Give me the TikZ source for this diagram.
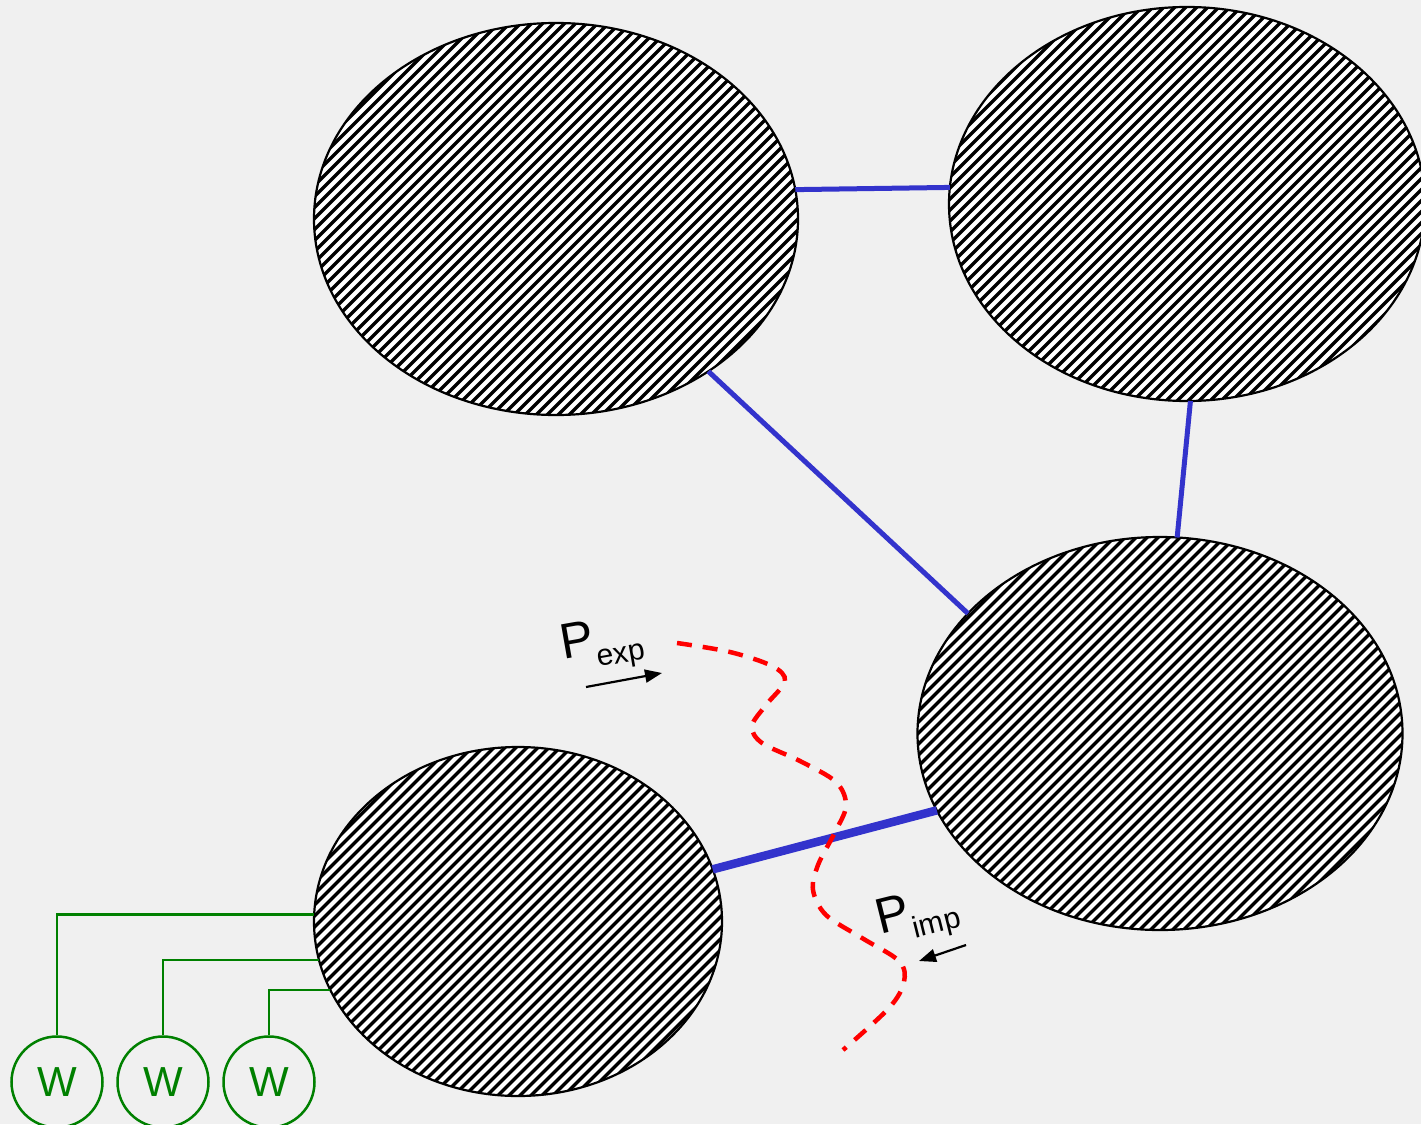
\documentclass[tikz,border=0pt]{standalone}
\usepackage{fontspec}
\setmainfont{Liberation Sans}
\usetikzlibrary{shapes.geometric,arrows.meta}
\definecolor{bgcol}{HTML}{F0F0F0}
\definecolor{linkblue}{HTML}{3333CC}
\definecolor{wgreen}{HTML}{008000}
\newcommand\hatcharea[3]{%
  \begin{scope}[shift={(#1.center)}]
    \fill[white] (0,0) ellipse [x radius=#2, y radius=#3];
    \clip (0,0) ellipse [x radius=#2, y radius=#3];
    \foreach \k in {-34,...,34} {\draw[hatchline] (\k*11-320,320) -- ++(640,-640);}
  \end{scope}}
\begin{document}
\begin{tikzpicture}[x=1pt,y=-1pt,
  area/.style={ellipse, draw=black, line width=2.2pt, inner sep=0pt, outer sep=0pt},
  hatchline/.style={draw=black, line width=3.4pt},
  link/.style={draw=linkblue, line width=5pt},
  biglink/.style={draw=linkblue, line width=8.5pt},
  gen/.style={circle, draw=wgreen, line width=2.5pt, minimum size=91pt, inner sep=0pt,
    text=wgreen, font=\fontsize{42}{42}\selectfont},
  feeder/.style={draw=wgreen, line width=2.5pt},
  cut/.style={draw=red, line width=4.5pt, dash pattern=on 15pt off 11pt},
  flowarrow/.style={draw=black, line width=2.2pt, -{Triangle[length=17pt,width=13pt]}},
  plabel/.style={font=\fontsize{50}{50}\selectfont, inner sep=0pt, anchor=base west}
]
\fill[bgcol] (0,0) rectangle (1421,1124);
\useasboundingbox (0,0) rectangle (1421,1124);

\coordinate (A) at (556,219);
\coordinate (B) at (1187,204);
\coordinate (C) at (1160,733.5);
\coordinate (D) at (518,921.5);
\hatcharea{A}{242}{196}
\hatcharea{B}{238}{197}
\hatcharea{C}{242.5}{196.5}
\hatcharea{D}{204}{174.5}
\node[area, minimum width=484pt, minimum height=392pt] (A) at (A) {};
\node[area, minimum width=476pt, minimum height=394pt] (B) at (B) {};
\node[area, minimum width=485pt, minimum height=393pt] (C) at (C) {};
\node[area, minimum width=408pt, minimum height=349pt] (D) at (D) {};

\draw[link] (A.7.5) -- (B.176);
\draw[link] (A.-45) -- (C.148);
\draw[link] (B.-89) -- (C.85);
\draw[biglink] (D.15) -- (C.199);

\draw[cut] plot[smooth, tension=0.55] coordinates {
  (677,643) (730,652) (772,666) (785,681) (766,705) (752,726) (762,743)
  (800,761) (836,782) (846,806) (834,834) (818,865) (813,890) (826,915)
  (862,938) (899,961) (904,982) (889,1008) (843,1050)};

\node[gen] (W1) at (57,1082) {W};
\node[gen] (W2) at (163,1082) {W};
\node[gen] (W3) at (269,1082) {W};
\draw[feeder] (W1.north) |- (D.178);
\draw[feeder] (W2.north) |- (D.191);
\draw[feeder] (W3.north) |- (D.200);

\node[plabel, rotate=10] (pexp) at (563,660) {P\raisebox{-13pt}{\fontsize{30}{30}\selectfont exp}};
\coordinate (expa) at (586,687);
\coordinate (expb) at (662,673);
\draw[flowarrow] (expa) -- (expb);

\node[plabel, rotate=14] (pimp) at (880,935) {P\raisebox{-12pt}{\fontsize{30}{30}\selectfont imp}};
\coordinate (impa) at (966,945);
\coordinate (impb) at (919,961);
\draw[flowarrow] (impa) -- (impb);
\end{tikzpicture}
\end{document}
